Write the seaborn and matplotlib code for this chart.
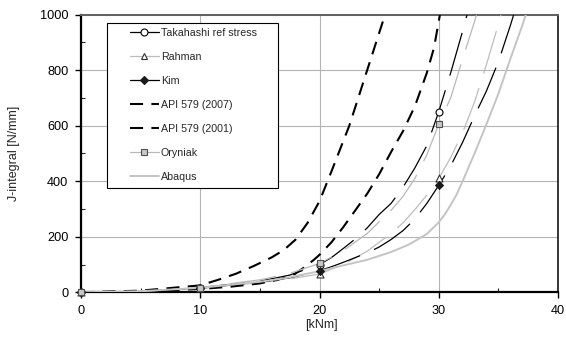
import matplotlib
matplotlib.use("Agg")
import matplotlib.pyplot as plt
from matplotlib.lines import Line2D
from matplotlib.patches import Rectangle
from matplotlib.ticker import MultipleLocator
import pandas as pd
import seaborn as sns

# Bending moment [kNm] against J-integral [N/mm] for each estimation method
takahashi_x = [0, 5, 10, 15, 17.5, 20, 21, 22, 23, 24, 25, 26, 27, 28, 29, 30, 30.5, 31, 31.5, 32, 32.5]
takahashi_y = [0, 3, 17, 40, 62, 100, 125, 158, 192, 232, 280, 320, 378, 448, 528, 650, 720, 790, 865, 940, 1020]

rahman_x = [0, 5, 10, 15, 17.5, 20, 22, 24, 26, 27, 28, 29, 30, 31, 32, 33, 34, 35, 35.5]
rahman_y = [0, 2, 14, 35, 48, 66, 100, 148, 212, 250, 298, 350, 410, 485, 575, 685, 820, 965, 1045]

kim_x = [0, 5, 10, 15, 17.5, 20, 21, 22, 23, 24, 25, 26, 27, 28, 29, 30, 31, 32, 33, 34, 35, 36, 36.5]
kim_y = [0, 2, 15, 36, 52, 78, 92, 108, 125, 142, 163, 190, 222, 264, 320, 385, 455, 540, 635, 725, 830, 960, 1030]

api2007_x = [0, 5, 10, 11.5, 13, 14.5, 16, 17, 18, 19, 20, 21, 22.5, 24, 25.5, 26]
api2007_y = [0, 6, 25, 45, 67, 95, 126, 152, 190, 250, 328, 435, 600, 800, 1000, 1065]

api2001_x = [0, 5, 10, 12.5, 15, 16.5, 17.8, 18.6, 19.5, 20, 21, 22, 23, 24, 25, 26, 27, 28, 29, 29.6, 30.1, 30.5]
api2001_y = [0, 3, 12, 20, 32, 45, 62, 86, 116, 135, 180, 235, 295, 355, 425, 505, 580, 670, 790, 880, 1000, 1090]

oryniak_x = [0, 5, 10, 15, 17.5, 20, 22, 24, 26, 27, 28, 29, 30, 31, 32, 33, 33.5]
oryniak_y = [0, 3, 17, 45, 68, 104, 150, 212, 295, 345, 410, 495, 605, 700, 840, 975, 1050]

abaqus_x = [0, 5, 10, 15, 17, 20, 22, 24, 26, 27.5, 29, 30, 30.5, 31, 31.5, 32, 33, 34, 35, 36, 37, 37.5]
abaqus_y = [0, 4, 16, 38, 50, 76, 97, 117, 145, 172, 210, 252, 280, 315, 352, 400, 500, 605, 715, 840, 960, 1025]

# moments at which the analytical solutions carry a marker
marker_x = [0, 10, 20, 30]

sns.set_style("white")
plt.rcParams["font.family"] = ["Liberation Sans", "DejaVu Sans"]
plt.rcParams["lines.scale_dashes"] = False

fig = plt.figure(figsize=(5.66, 3.47), dpi=100)
ax = fig.add_axes([0.1431, 0.1576, 0.8428, 0.8006])

long_dash = (0, (32, 11))
long_dash_shift = (20, (32, 11))
api_dash = (0, (9.4, 6))

series = [
    dict(label="Takahashi ref stress", x=takahashi_x, y=takahashi_y, color="black", lw=0.9,
         ls=long_dash, leg_ls="-", marker="o", ms=5, mfc="white", mec="black"),
    dict(label="Rahman", x=rahman_x, y=rahman_y, color="#bdbdbd", lw=0.9,
         ls=long_dash_shift, leg_ls="-", marker="^", ms=5, mfc="white", mec="#303030"),
    dict(label="Kim", x=kim_x, y=kim_y, color="black", lw=0.9,
         ls=long_dash, leg_ls="-", marker="D", ms=4, mfc="#1a1a1a", mec="#1a1a1a"),
    dict(label="API 579 (2007)", x=api2007_x, y=api2007_y, color="black", lw=1.5,
         ls=api_dash, leg_ls=api_dash, marker=None),
    dict(label="API 579 (2001)", x=api2001_x, y=api2001_y, color="black", lw=1.5,
         ls=api_dash, leg_ls=api_dash, marker=None),
    dict(label="Oryniak", x=oryniak_x, y=oryniak_y, color="#b8b8b8", lw=0.9,
         ls=long_dash_shift, leg_ls="-", marker="s", ms=5, mfc="#c8c8c8", mec="#505050"),
    dict(label="Abaqus", x=abaqus_x, y=abaqus_y, color="#c4c4c4", lw=1.4,
         ls="-", leg_ls="-", marker=None),
]

handles = []
for s in series:
    df = pd.DataFrame({"M": s["x"], "J": s["y"]})
    sns.lineplot(data=df, x="M", y="J", ax=ax, color=s["color"], linewidth=s["lw"],
                 estimator=None, sort=False, legend=False, zorder=3)
    ax.lines[-1].set_linestyle(s["ls"])
    if s["marker"]:
        pts = df[df["M"].isin(marker_x)]
        sns.scatterplot(data=pts, x="M", y="J", ax=ax, marker=s["marker"], s=s["ms"] ** 2,
                        color=s["mfc"], edgecolor=s["mec"], linewidth=0.8, legend=False,
                        zorder=4, clip_on=False)
    handles.append(Line2D([], [], color=s["color"], lw=s["lw"], ls=s["leg_ls"],
                          marker=s["marker"], ms=s["ms"] if s["marker"] else 0,
                          mfc=s.get("mfc"), mec=s.get("mec"), mew=0.8, label=s["label"]))

ax.set_xlim(0, 40)
ax.set_ylim(0, 1000)
ax.xaxis.set_major_locator(MultipleLocator(10))
ax.xaxis.set_minor_locator(MultipleLocator(5))
ax.yaxis.set_major_locator(MultipleLocator(200))
ax.yaxis.set_minor_locator(MultipleLocator(100))
ax.tick_params(which="major", direction="out", length=4, width=1, labelsize=9.2,
               pad=5, colors="black", bottom=True, left=True)
ax.tick_params(which="minor", direction="in", length=3, width=0.8, bottom=True, left=True)
ax.grid(True, which="major", color="#b4b4b4", lw=0.8)
ax.set_axisbelow(True)

ax.spines["left"].set_linewidth(1.6)
ax.spines["bottom"].set_linewidth(1.6)
ax.spines["left"].set_color("black")
ax.spines["bottom"].set_color("black")
ax.spines["top"].set_linewidth(1.4)
ax.spines["top"].set_color("#606060")
ax.spines["right"].set_linewidth(1.1)
ax.spines["right"].set_color("black")

ax.set_xlabel("[kNm]", fontsize=9)
ax.set_ylabel("J-integral [N/mm]", fontsize=9)
ax.xaxis.set_label_coords(0.503, -0.097)
ax.yaxis.set_label_coords(-0.128, 0.5)

# legend box
ax.add_patch(Rectangle((0.0539, 0.3755), 0.3591, 0.5925, transform=ax.transAxes,
                       facecolor="white", edgecolor="black", lw=0.8, zorder=6))
leg = ax.legend(handles=handles, loc="upper left", bbox_to_anchor=(0.1027, 0.952),
                frameon=False, fontsize=7.7, borderaxespad=0, borderpad=0,
                handlelength=2.7, handletextpad=0.2, labelspacing=1.31)
leg.set_zorder(7)

fig.savefig("out.png", dpi=100)
